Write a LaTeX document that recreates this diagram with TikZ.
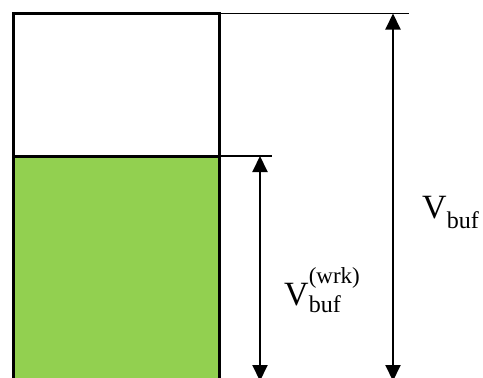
\documentclass[tikz,border=0pt]{standalone}
\usepackage{fontspec}
\setmainfont{Liberation Serif}
\usetikzlibrary{arrows.meta}
\definecolor{fillgreen}{RGB}{146,208,80}
\begin{document}
\begin{tikzpicture}[x=1pt,y=-1pt,
  heavy/.style={line width=3pt,line cap=rect},
  thinline/.style={line width=1.3pt},
  dimarrow/.style={line width=2pt,{Triangle[width=15pt,length=16pt]}-{Triangle[width=15pt,length=16pt]}},
  lbl/.style={inner sep=0pt,anchor=base west,font=\fontsize{34}{40}\selectfont}]
\useasboundingbox (0,0) rectangle (483,378);
\coordinate (tl) at (13.5,13.5);
\coordinate (tr) at (219,13.5);
\coordinate (ml) at (13.5,156);
\coordinate (mr) at (219,156);
\coordinate (bl) at (13.5,390);
\coordinate (br) at (219,390);
\coordinate (topext) at (409,13.5);
\coordinate (midext) at (272,156);
\coordinate (a1t) at (393,13.5);
\coordinate (a1b) at (393,381);
\coordinate (a2t) at (260,156);
\coordinate (a2b) at (260,381);
\fill[fillgreen] (ml) rectangle (br);
\draw[thinline] (tr) -- (topext);
\draw[thinline] (mr) -- (midext);
\draw[heavy] (br) -- (tr) -- (tl) -- (bl);
\draw[heavy] (ml) -- (mr);
\draw[dimarrow] (a1t) -- (a1b);
\draw[dimarrow] (a2t) -- (a2b);
\node[lbl] (vbuf) at (422,218) {V\raisebox{-10pt}{\fontsize{24}{26}\selectfont buf}};
\node[lbl] (vwrk) at (284,305) {V\rlap{\raisebox{22pt}{\fontsize{23}{26}\selectfont (wrk)}}\raisebox{-7pt}{\fontsize{24}{26}\selectfont buf}};
\end{tikzpicture}
\end{document}
